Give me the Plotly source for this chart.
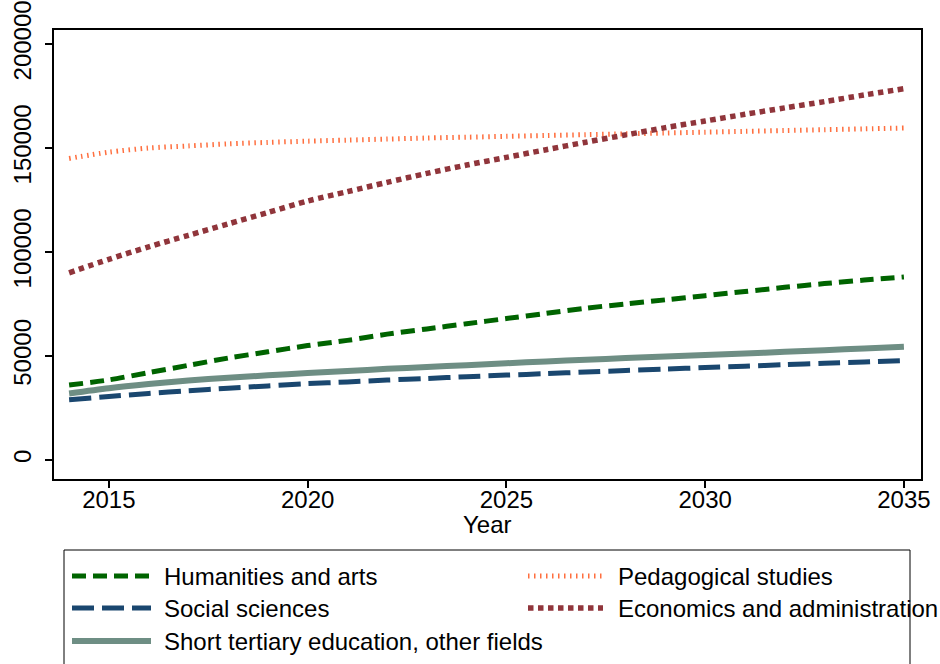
import plotly.graph_objects as go

# Projected student numbers by field of study, 2014-2035
years = list(range(2014, 2036))

humanities = [36000, 38500, 42000, 45500, 49000, 52000, 55000, 57500, 60500, 63000, 65500,
              68000, 70500, 73000, 75000, 77000, 79000, 81000, 83000, 84800, 86500, 88000]
pedagogical = [145000, 148000, 150000, 151000, 152000, 152700, 153300, 153800, 154300, 154800, 155200,
               155600, 156000, 156400, 156800, 157200, 157600, 158000, 158400, 158800, 159200, 159600]
social = [29000, 30500, 32000, 33300, 34500, 35600, 36700, 37500, 38400, 39200, 40000,
          40800, 41500, 42300, 43000, 43700, 44400, 45100, 45800, 46500, 47100, 47800]
economics = [90000, 96500, 102500, 108000, 113500, 119000, 124500, 129000, 133500, 137800, 141800,
             145500, 149200, 152800, 156300, 159800, 163000, 166200, 169300, 172300, 175500, 178500]
short_tertiary = [32000, 34500, 36500, 38200, 39500, 40700, 41800, 42800, 43800, 44700, 45600,
                  46500, 47400, 48200, 49000, 49800, 50500, 51200, 52000, 52800, 53600, 54400]

x_ticks = [2015, 2020, 2025, 2030, 2035]
y_ticks = [0, 50000, 100000, 150000, 200000]
y_tick_labels = ["0", "50000", "100000", "150000", "200000"]

FONT = "Liberation Sans, Arial, sans-serif"
FS = 24

series = [
    # name, values, color, dash, width
    ("Humanities and arts", humanities, "#006400", "14px,7px", 5),
    ("Pedagogical studies", pedagogical, "#ff6f3f", "1.5px,4.5px", 5),
    ("Social sciences", social, "#1a476f", "22px,8px", 5),
    ("Economics and administration", economics, "#90353b", "5.5px,4.5px", 5.5),
    ("Short tertiary education, other fields", short_tertiary, "#6e8e84", "solid", 6),
]

fig = go.Figure()
for name, vals, color, dash, width in series:
    fig.add_trace(go.Scatter(
        x=years, y=vals, mode="lines", name=name,
        line=dict(color=color, dash=dash, width=width, shape="spline", smoothing=0.8),
        showlegend=False,
    ))

# Plot area geometry in pixels (used for the hand-drawn legend)
W, H = 940, 664
ML, MR, MT, MB = 54, 19, 30, 185
PW, PH = W - ML - MR, H - MT - MB


def px(xp):
    return (xp - ML) / PW


def py(yp):
    return (H - MB - yp) / PH


shapes = []
annotations = []

# legend frame
shapes.append(dict(type="rect", xref="paper", yref="paper",
                   x0=px(64), x1=px(910), y0=py(680), y1=py(550),
                   line=dict(color="black", width=1), fillcolor="white", layer="below"))

legend_slots = [
    (0, 576, 0), (1, 576, 1), (2, 608, 0), (3, 608, 1), (4, 641, 0),
]
cols = {0: (72, 151, 162), 1: (528, 603, 616)}
for idx, yrow, col in legend_slots:
    name, vals, color, dash, width = series[idx]
    xs0, xs1, xt = cols[col]
    shapes.append(dict(type="line", xref="paper", yref="paper",
                       x0=px(xs0), x1=px(xs1), y0=py(yrow), y1=py(yrow),
                       line=dict(color=color, dash=dash, width=width)))
    annotations.append(dict(xref="paper", yref="paper", x=px(xt), y=py(yrow),
                            text=name, showarrow=False, xanchor="left", yanchor="middle",
                            font=dict(family=FONT, size=FS, color="black")))

# x-axis title
annotations.append(dict(xref="paper", yref="paper", x=0.5, y=py(524), text="Year",
                        showarrow=False, xanchor="center", yanchor="middle",
                        font=dict(family=FONT, size=FS, color="black")))

fig.update_layout(
    template="none",
    width=W, height=H,
    margin=dict(l=ML, r=MR, t=MT, b=MB, autoexpand=False),
    paper_bgcolor="white", plot_bgcolor="white",
    font=dict(family=FONT, size=FS, color="black"),
    shapes=shapes, annotations=annotations,
    xaxis=dict(
        range=[2013.62, 2035.43], tickvals=x_ticks, ticks="outside", ticklen=7,
        tickwidth=1.5, tickcolor="black", showgrid=False, zeroline=False,
        showline=True, mirror=True, linecolor="black", linewidth=1.5,
        tickfont=dict(size=FS), automargin=False, ticklabelstandoff=-9,
    ),
    yaxis=dict(
        range=[-9157, 206747], tickvals=y_ticks, ticktext=y_tick_labels,
        ticks="outside", ticklen=7, tickwidth=1.5, tickcolor="black",
        showgrid=False, zeroline=False, showline=True, mirror=True,
        linecolor="black", linewidth=1.5, tickangle=-90, tickfont=dict(size=FS),
        automargin=False, ticklabelstandoff=5,
    ),
)

fig.write_html("out.html")
